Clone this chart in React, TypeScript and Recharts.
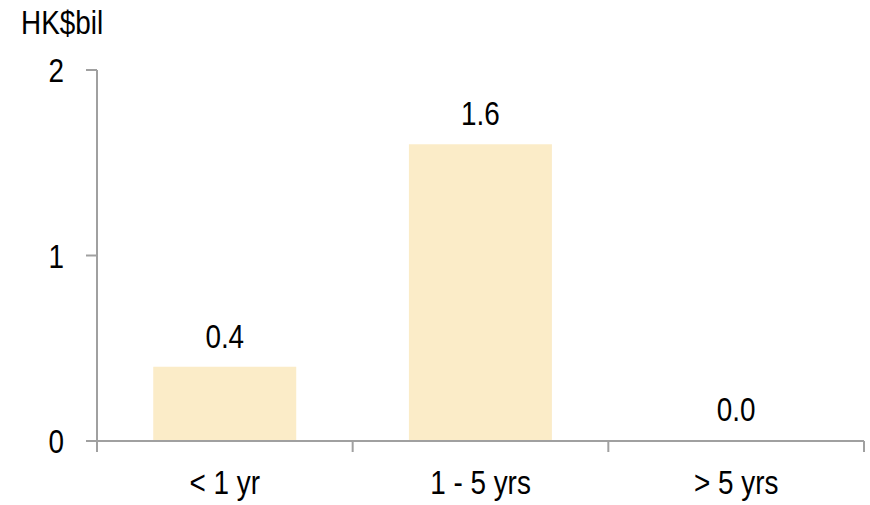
import { Bar, BarChart, LabelList, Rectangle, XAxis, YAxis } from "recharts"

const categories = ["< 1 yr", "1 - 5 yrs", "> 5 yrs"]
const values = [0.4, 1.6, 0.0]
const yTicks = [0, 1, 2]
const xTicks = [-0.5, 0, 0.5, 1, 1.5, 2, 2.5]
const unitLabel = "HK$bil"

const FONT = "'Liberation Sans', Arial, sans-serif"
const FS = 34
const SX = 0.82
const AXIS = "#a0a0a0"

const data = categories.map((name, i) => ({ name, value: values[i], idx: i }))

// narrow text, like Arial Narrow
const NarrowText = ({ x, y, anchor, dy, children }: any) => (
  <text
    transform={`translate(${x},${y}) scale(${SX},1)`}
    textAnchor={anchor}
    dy={dy}
    fill="#000"
    fontSize={FS}
    fontFamily={FONT}
  >
    {children}
  </text>
)

// tick marks sit between categories, labels sit in the middle
const XTick = ({ x, y, payload }: any) => {
  const v = payload.value
  if (Number.isInteger(v)) {
    return (
      <NarrowText x={x} y={y + 29} anchor="middle" dy="0.71em">
        {categories[v]}
      </NarrowText>
    )
  }
  return <line x1={x} x2={x} y1={y} y2={y + 11} stroke={AXIS} strokeWidth={2} />
}

const YTick = ({ x, y, payload }: any) => (
  <NarrowText x={x} y={y} anchor="end" dy="0.355em">
    {payload.value}
  </NarrowText>
)

const BarLabel = ({ x, y, width, value }: any) => (
  <NarrowText x={x + width / 2} y={y - 19} anchor="middle" dy={0}>
    {Number(value).toFixed(1)}
  </NarrowText>
)

const BarShape = (props: any) => (props.value > 0 ? <Rectangle {...props} /> : <g />)

export default function App() {
  return (
    <div style={{ position: "absolute", left: 0, top: 0, width: 870, height: 505, background: "#fff" }}>
      <BarChart
        width={870}
        height={505}
        data={data}
        margin={{ top: 70, right: 6, bottom: 0, left: 0 }}
        barCategoryGap="22%"
      >
        <XAxis dataKey="name" hide height={0} />
        <XAxis
          xAxisId="bounds"
          dataKey="idx"
          type="number"
          domain={[-0.5, 2.5]}
          ticks={xTicks}
          interval={0}
          height={64}
          tickSize={0}
          tickMargin={0}
          tickLine={false}
          axisLine={{ stroke: AXIS, strokeWidth: 2 }}
          tick={<XTick />}
          allowDataOverflow
        />
        <YAxis
          width={97}
          domain={[0, 2]}
          ticks={yTicks}
          tickSize={11}
          tickMargin={22}
          axisLine={{ stroke: AXIS, strokeWidth: 2 }}
          tickLine={{ stroke: AXIS, strokeWidth: 2 }}
          tick={<YTick />}
        />
        <Bar dataKey="value" fill="#FBECC8" minPointSize={1} shape={BarShape} isAnimationActive={false}>
          <LabelList dataKey="value" content={<BarLabel />} />
        </Bar>
      </BarChart>
      <svg width={200} height={50} style={{ position: "absolute", left: 0, top: 0 }}>
        <NarrowText x={21} y={34} anchor="start" dy={0}>
          {unitLabel}
        </NarrowText>
      </svg>
    </div>
  )
}
